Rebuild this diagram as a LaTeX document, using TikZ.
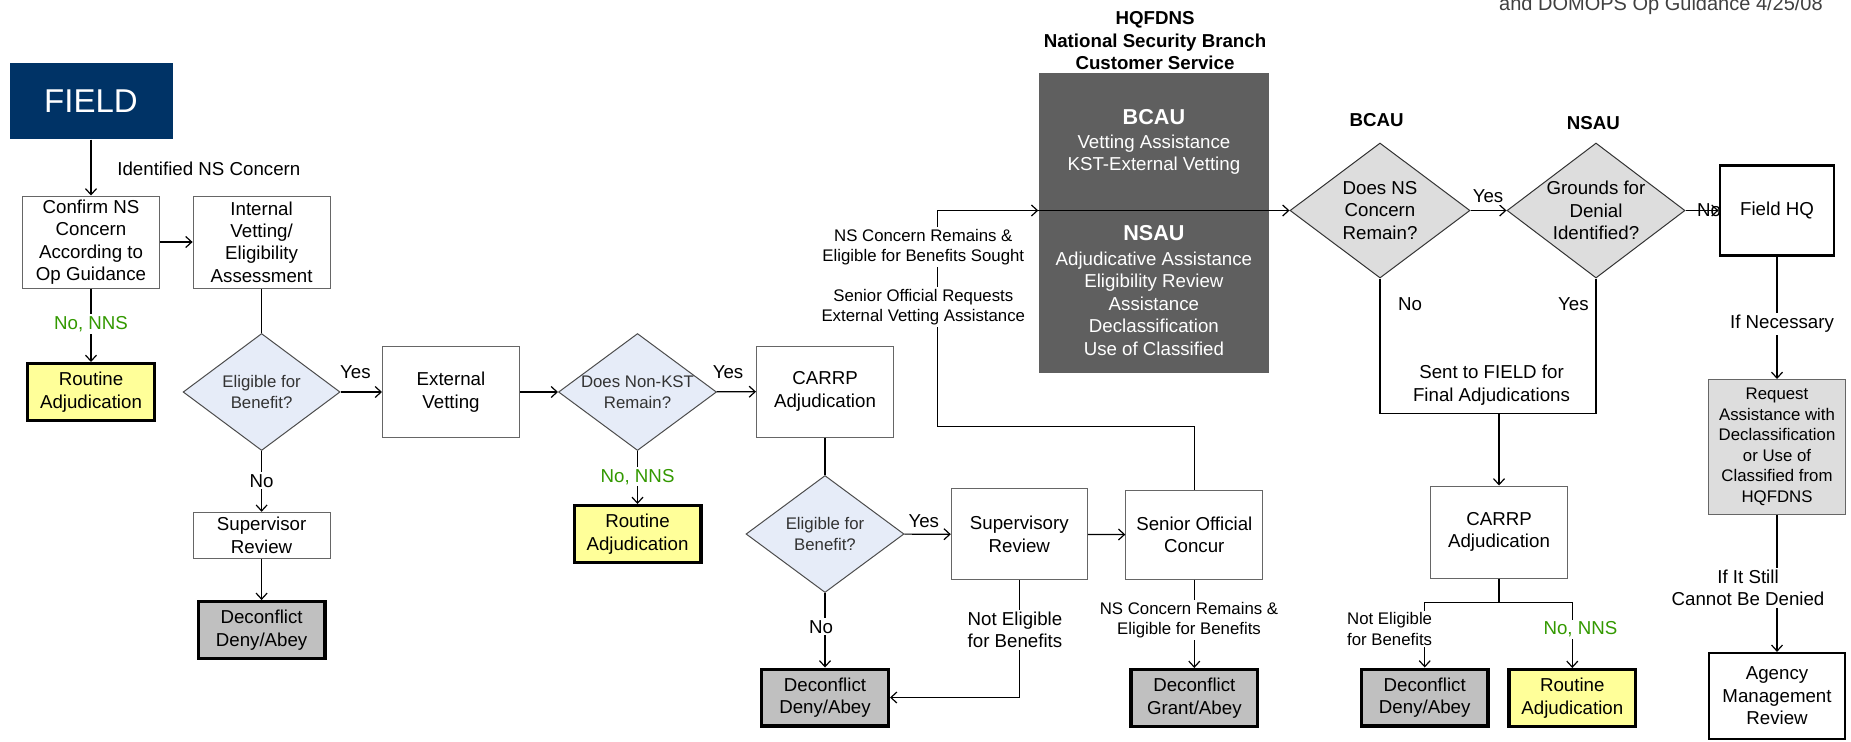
\documentclass[tikz,border=0pt]{standalone}
\usepackage{fontspec}
\setmainfont{Liberation Sans}
\usetikzlibrary{arrows.meta,shapes.geometric}
\definecolor{fieldnavy}{RGB}{0,51,102}
\definecolor{routineyellow}{RGB}{255,255,153}
\definecolor{deconflictgray}{RGB}{192,192,192}
\definecolor{hqgray}{RGB}{95,95,95}
\definecolor{decidegray}{RGB}{221,221,221}
\definecolor{askblue}{RGB}{230,236,248}
\definecolor{nnsgreen}{RGB}{51,153,0}

\begin{document}
\begin{tikzpicture}[>={Straight Barb[length=3pt,width=5.5pt]},x=0.5pt,y=-0.5pt,
  line width=0.6pt,
  box/.style={draw=black!60,line width=0.5pt,fill=white,align=center,inner sep=0pt,font=\boxtext},
  endbox/.style={box,draw=black,line width=1.7pt,minimum width=63.3pt,minimum height=28.3pt},
  routine/.style={endbox,fill=routineyellow},
  deconflict/.style={endbox,fill=deconflictgray},
  hqbox/.style={box,draw=black,line width=1.1pt},
  ask/.style={diamond,draw=black!70,line width=0.5pt,fill=askblue,aspect=1.34,inner sep=-5pt,
    align=center,font=\smalltext,text=black!80},
  decide/.style={ask,draw=black!80,fill=decidegray,font=\boxtext,text=black},
  lab/.style={fill=white,inner sep=1pt,align=center,font=\boxtext},
  smalllab/.style={lab,font=\smalltext},
  nns/.style={lab,text=nnsgreen}]
  % Configurable parameters
  \newcommand{\boxtext}{\fontsize{9.35}{11.2}\selectfont}         % box and label text
  \newcommand{\smalltext}{\fontsize{8.4}{10.25}\selectfont}       % smaller notes
  \newcommand{\fieldtext}{\fontsize{16.5}{19}\selectfont}         % FIELD banner
  \newcommand{\unittext}{\fontsize{10.8}{13}\selectfont\bfseries} % unit names
  %
  \useasboundingbox (0,0) rectangle (1851,741);
  %
  % Field processing
  \node[fill=fieldnavy,text=white,font=\fieldtext,minimum width=81.5pt,minimum height=38pt]
    (field) at (91,101) {FIELD};
  \node[box,minimum width=68.5pt,minimum height=46pt] (confirm) at (91,242)
    {Confirm NS\\Concern\\According to\\Op Guidance};
  \node[box,minimum width=68.5pt,minimum height=46pt] (internal) at (261.6,242)
    {Internal\\Vetting/\\Eligibility\\Assessment};
  \node[routine] (routA) at (91,392) {Routine\\Adjudication};
  \node[ask,minimum width=78.5pt,minimum height=58.5pt] (eligA) at (261.6,392)
    {Eligible for\\Benefit?};
  \node[box,minimum width=68.5pt,minimum height=23pt] (superA) at (261.6,535.3)
    {Supervisor\\Review};
  \node[deconflict] (deconA) at (261.6,630) {Deconflict\\Deny/Abey};
  \node[box,minimum width=68.5pt,minimum height=45.5pt] (extvet) at (451,392)
    {External\\Vetting};
  \node[ask,minimum width=79pt,minimum height=58.5pt] (nonkst) at (637.5,392)
    {Does Non-KST\\Remain?};
  \node[routine] (routB) at (637.5,534) {Routine\\Adjudication};
  \node[box,minimum width=68.5pt,minimum height=45.5pt] (carrpA) at (825,391.5)
    {CARRP\\Adjudication};
  \node[ask,minimum width=79pt,minimum height=58.5pt] (eligB) at (825,534)
    {Eligible for\\Benefit?};
  \node[deconflict] (deconB) at (825,697.5) {Deconflict\\Deny/Abey};
  \node[box,minimum width=68pt,minimum height=45.5pt] (superB) at (1019.3,534.3)
    {Supervisory\\Review};
  \node[box,minimum width=68.5pt,minimum height=44.5pt] (senior) at (1194.3,534.7)
    {Senior Official\\Concur};
  \node[deconflict] (deconC) at (1194.3,698) {Deconflict\\Grant/Abey};
  %
  % HQFDNS
  \node[font=\boxtext\bfseries,align=center] (hqtitle) at (1155,40.8)
    {HQFDNS\\National Security Branch\\Customer Service};
  \node[fill=hqgray,minimum width=115pt,minimum height=150pt] (hq) at (1153.9,222.7) {};
  \node[text=white,font=\unittext] (bcautitle) at (1153.9,117.3) {BCAU};
  \node[text=white,font=\boxtext,align=center] (bcautext) at (1153.9,154.5)
    {Vetting Assistance\\KST-External Vetting};
  \node[text=white,font=\unittext] (nsautitle) at (1153.9,233.3) {NSAU};
  \node[text=white,font=\boxtext,align=center] (nsautext) at (1153.9,303.6)
    {Adjudicative Assistance\\Eligibility Review\\Assistance\\Declassification\\Use of Classified};
  %
  % HQ decisions and return to field
  \node[font=\boxtext\bfseries] (bcaulab) at (1376.6,120) {BCAU};
  \node[decide,minimum width=90pt,minimum height=67.5pt] (concern) at (1380,210.5)
    {Does NS\\Concern\\Remain?};
  \node[font=\boxtext\bfseries] (nsaulab) at (1593.4,123.3) {NSAU};
  \node[decide,minimum width=89pt,minimum height=67.5pt] (grounds) at (1596,210.5)
    {Grounds for\\Denial\\Identified?};
  \node[font=\boxtext] (noC) at (1709,210.5) {No};
  \node[hqbox,minimum width=57.3pt,minimum height=45pt] (fieldhq) at (1777,210.5) {Field HQ};
  \node[box,minimum width=68.5pt,minimum height=46pt] (carrpB) at (1499,532)
    {CARRP\\Adjudication};
  \node[deconflict] (deconD) at (1424.7,697.5) {Deconflict\\Deny/Abey};
  \node[routine] (routC) at (1572.3,698) {Routine\\Adjudication};
  \node[box,fill=decidegray,font=\smalltext,minimum width=68.5pt,minimum height=67.5pt]
    (request) at (1777,447)
    {Request\\Assistance with\\Declassification\\or Use of\\Classified from\\HQFDNS};
  \node[hqbox,minimum width=68pt,minimum height=43pt] (agency) at (1777,696)
    {Agency\\Management\\Review};
  %
  \node[anchor=base east,font=\fontsize{10}{12}\selectfont,text=black!75] (note) at (1830,10)
    {and DOMOPS Op Guidance 4/25/08};
  %
  % Connecting lines
  \draw[->] (field) -- (confirm);
  \draw[->] (confirm) -- (internal);
  \draw[->] (confirm) -- (routA);
  \draw (internal) -- (eligA);
  \draw[->] (eligA) -- (extvet);
  \draw[->] (eligA) -- (superA);
  \draw[->] (superA) -- (deconA);
  \draw[->] (extvet) -- (nonkst);
  \draw[->] (nonkst) -- (routB);
  \draw[->] (nonkst) -- (carrpA);
  \draw (carrpA) -- (eligB);
  \draw[->] (eligB) -- (superB);
  \draw[->] (eligB) -- (deconB);
  \draw[->] (superB) -- (senior);
  \draw[->] (superB) |- (deconB);
  \draw[->] (senior) -- (deconC);
  %
  \coordinate (jog) at (937.2,426.3);
  \draw[->] (senior) |- (jog) |- (hq.west |- concern);
  \draw[->] (hq.west |- concern) -- (concern);
  \draw[->] (concern) -- (grounds);
  \draw[->] (grounds) -- (fieldhq);
  \coordinate (merge) at (1499,413.3);
  \draw (concern) |- (merge) -| (grounds);
  \draw[->] (merge) -- (carrpB);
  \coordinate (split) at (1499,602.3);
  \draw (carrpB) -- (split);
  \draw[->] (split) -| (deconD);
  \draw[->] (split) -| (routC);
  \draw[->] (fieldhq) -- (request);
  \draw[->] (request) -- (agency);
  %
  % Annotations
  \node[lab,anchor=west] (identified) at (114.8,169) {Identified NS Concern};
  \node[nns] (nnsA) at (91,324) {No, NNS};
  \node[lab] (yesA) at (355.4,372.3) {Yes};
  \node[lab] (noA) at (261.6,480.7) {No};
  \node[nns] (nnsB) at (637.6,476.7) {No, NNS};
  \node[lab] (yesB) at (728,372.3) {Yes};
  \node[lab] (yesC) at (923.8,521) {Yes};
  \node[lab] (noB) at (821,626.7) {No};
  \node[lab] (noteligA) at (1015,629.7) {Not Eligible\\for Benefits};
  \node[smalllab] (remains) at (1189,620) {NS Concern Remains \&\\Eligible for Benefits};
  \node[smalllab] (sought) at (923.3,247) {NS Concern Remains \&\\Eligible for Benefits Sought};
  \node[smalllab] (requests) at (923.3,307.3) {Senior Official Requests\\External Vetting Assistance};
  \node[lab] (yesD) at (1488,196) {Yes};
  \node[lab] (noD) at (1410,304.3) {No};
  \node[lab] (yesE) at (1573.4,304.3) {Yes};
  \node[lab] (sent) at (1491.5,385) {Sent to FIELD for\\Final Adjudications};
  \node[smalllab] (noteligB) at (1389.6,629) {Not Eligible\\for Benefits};
  \node[nns] (nnsC) at (1580.4,629.3) {No, NNS};
  \node[lab] (necessary) at (1782,324) {If Necessary};
  \node[lab] (still) at (1748,588) {If It Still\\Cannot Be Denied};
  %
\end{tikzpicture}
\end{document}
